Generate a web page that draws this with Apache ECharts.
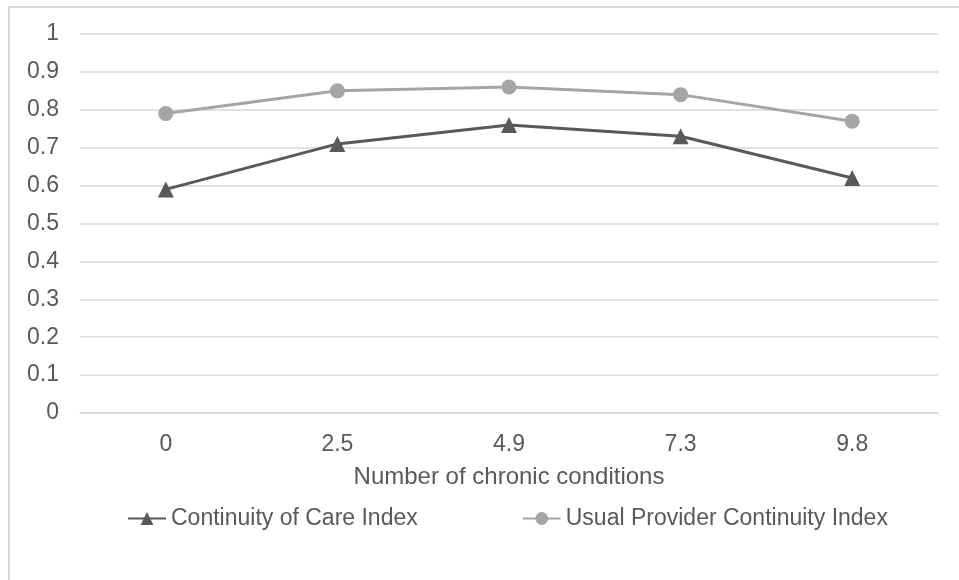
<!DOCTYPE html>
<html>
<head>
<meta charset="utf-8">
<script src="https://cdn.jsdelivr.net/npm/echarts@6/dist/echarts.min.js"></script>
<style>html,body{margin:0;padding:0;background:#fff}#c{width:959px;height:580px}</style>
</head>
<body>
<div id="c"></div>
<script>
const categories = ['0', '2.5', '4.9', '7.3', '9.8'];
const continuityOfCare = [0.59, 0.71, 0.76, 0.73, 0.62];
const usualProvider = [0.79, 0.85, 0.86, 0.84, 0.77];
const seriesNames = ['Continuity of Care Index', 'Usual Provider Continuity Index'];
const xAxisTitle = 'Number of chronic conditions';

const font = '"Liberation Sans", Arial, sans-serif';
const txt = '#595959';
const chart = echarts.init(document.getElementById('c'), null, {renderer: 'canvas'});
chart.setOption({
  animation: false,
  backgroundColor: '#fff',
  textStyle: {fontFamily: font},
  graphic: [{
    type: 'rect', silent: true, z: -1,
    shape: {x: 9, y: 7, width: 1000, height: 1000},
    style: {fill: 'none', stroke: '#d9d9d9', lineWidth: 2}
  }],
  grid: {left: 80, right: 21, top: 34, bottom: 167, containLabel: false},
  xAxis: {
    type: 'category', data: categories, boundaryGap: true,
    name: xAxisTitle, nameLocation: 'middle', nameGap: 52,
    nameTextStyle: {color: txt, fontSize: 24, fontFamily: font},
    axisLine: {show: true, lineStyle: {color: '#d9d9d9', width: 1.5}},
    axisTick: {show: false},
    axisLabel: {color: txt, fontSize: 23, fontFamily: font, margin: 20}
  },
  yAxis: {
    type: 'value', min: 0, max: 1, interval: 0.1,
    axisLine: {show: false}, axisTick: {show: false},
    axisLabel: {color: txt, fontSize: 23, fontFamily: font, margin: 21,
      formatter: v => String(Math.round(v * 10) / 10)},
    splitLine: {lineStyle: {color: '#d9d9d9', width: 1.5}}
  },
  legend: {
    top: 507, left: 127, padding: 0, itemWidth: 38, itemHeight: 16, itemGap: 104,
    textStyle: {color: txt, fontSize: 23, fontFamily: font},
    data: seriesNames
  },
  series: [
    {name: seriesNames[0], type: 'line', data: continuityOfCare,
     symbol: 'triangle', symbolSize: 16,
     lineStyle: {color: '#595959', width: 3}, itemStyle: {color: '#595959'}},
    {name: seriesNames[1], type: 'line', data: usualProvider,
     symbol: 'circle', symbolSize: 15,
     lineStyle: {color: '#a5a5a5', width: 3}, itemStyle: {color: '#a5a5a5'}}
  ]
});
</script>
</body>
</html>
